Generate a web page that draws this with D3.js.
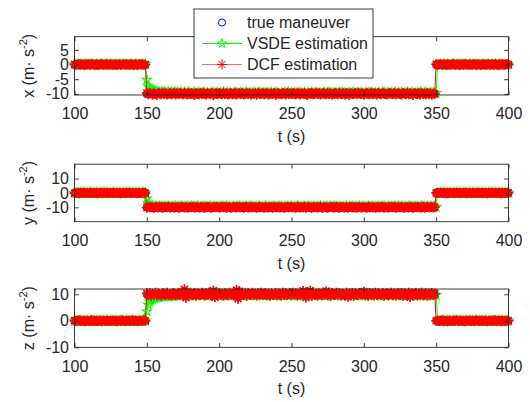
<!DOCTYPE html>
<html>
<head>
<meta charset="utf-8">
<script src="https://cdn.jsdelivr.net/npm/d3@7"></script>
<style>
  body { margin: 0; background: #fff; }
  svg { display: block; }
  text { font-family: "Liberation Sans", Arial, Helvetica, sans-serif; fill: #262626; }
</style>
</head>
<body>
<svg id="chart" width="530" height="402"></svg>
<script>
// ---- data -------------------------------------------------------------
// sample times (s), one sample per second
const time = d3.range(100, 401);
// true maneuver, piecewise constant: [from t, to t, ax, ay, az] (m/s^2)
const maneuverSegments = [
  [100, 149, 0, 0, 0],
  [150, 349, -10, -10, 10],
  [350, 400, 0, 0, 0]
];
const xTickValues = [100, 150, 200, 250, 300, 350, 400];
const seriesNames = ["true maneuver", "VSDE estimation", "DCF estimation"];

// estimation errors w.r.t. the true maneuver, in units of 0.1 m/s^2 (t = 100 … 400)
const dcfErrX = [
  1,-1,0,2,-1,1,0,-2,1,0,1,-1,2,0,-1,1,-2,0,1,1,-1,0,2,-1,0,
  1,0,-1,1,-2,0,1,-1,0,2,-1,1,0,-1,1,0,-2,1,0,-1,2,0,1,-1,0,
  3,-2,4,1,-3,2,0,-4,3,1,-2,4,-1,2,-3,0,3,-2,1,4,-3,2,-1,3,0,
  -2,4,1,-3,2,-1,3,0,-4,2,1,-2,3,-1,4,0,-3,2,1,-2,3,-4,1,2,-1,
  3,0,-2,4,-1,2,-3,1,3,-2,0,4,-3,1,2,-1,3,-2,0,4,-1,2,-3,1,0,
  2,-3,4,0,-1,3,-2,1,4,-3,0,2,-1,3,-4,1,2,0,-2,3,1,-3,4,-1,2,
  -1,3,0,-2,4,1,-3,2,0,3,-1,-4,2,1,3,-2,0,4,-1,2,-3,1,3,0,-2,
  4,-1,2,-3,0,3,1,-2,4,-1,0,2,-3,3,1,-4,2,0,-1,3,-2,4,1,-1,2,
  -3,1,3,0,-2,4,-1,2,1,-3,3,0,-2,4,1,-1,-3,2,3,0,-1,4,-2,1,2,
  0,-3,3,1,-1,4,-2,2,0,-4,3,1,-1,2,-3,4,0,1,-2,3,-1,2,-3,1,0,
  1,-1,0,2,-1,0,1,-2,1,0,-1,1,2,-1,0,1,-2,0,1,-1,2,0,-1,1,0,
  -1,2,0,-1,1,0,-2,1,1,-1,0,2,-1,0,1,-1,2,0,-2,1,0,1,-1,0,2,
  0
];
const vsdeErrX = [
  0,1,-1,0,1,0,-1,1,0,-1,0,1,1,-1,0,0,1,-1,0,1,-1,0,0,1,-1,
  1,0,-1,0,1,-1,0,1,0,-1,1,0,0,-1,1,0,-1,0,1,0,-1,1,0,0,1,
  48,26,19,15,12,10,8,7,6,5,5,4,6,3,5,4,3,5,2,4,3,5,2,4,3,
  2,4,1,3,5,2,0,3,4,1,2,5,0,3,2,4,1,3,0,2,5,1,3,2,4,
  1,3,2,5,0,2,4,1,3,-1,2,4,1,3,0,5,2,1,3,4,0,2,3,1,4,
  2,0,3,5,1,2,4,0,3,1,2,5,-1,3,2,4,1,0,3,2,5,1,2,4,0,
  3,1,4,2,0,3,5,1,2,4,0,3,1,2,5,2,0,4,1,3,2,0,4,3,1,
  2,5,0,3,1,4,2,0,3,2,5,1,3,0,2,4,1,3,5,0,2,3,1,4,2,
  0,3,2,4,1,5,2,0,3,1,4,2,0,3,5,1,2,4,0,3,1,2,4,0,3,
  2,4,1,3,0,5,2,1,3,4,0,2,3,1,4,2,0,3,5,1,2,4,1,3,2,
  -97,0,1,-1,0,1,0,-1,1,0,-1,0,1,1,-1,0,0,1,-1,0,1,-1,0,0,1,
  0,-1,1,0,0,-1,1,0,-1,0,1,0,-1,1,0,0,1,-1,0,1,-1,0,1,0,-1,
  0
];
const dcfErrY = [
  -1,1,0,-2,1,0,2,-1,0,1,-1,2,0,-1,1,0,-2,1,1,0,-1,2,-1,0,1,
  0,-1,2,0,1,-1,0,-2,1,1,0,-1,2,0,-1,1,0,1,-2,0,1,-1,0,2,-1,
  -3,4,-1,2,0,-4,3,1,-2,5,0,-3,2,1,-1,4,-2,0,3,-4,2,1,-3,0,4,
  1,-2,3,-4,0,2,-1,5,-3,1,2,-2,0,4,-1,-3,2,1,3,-4,0,2,-1,3,1,
  -2,0,4,-1,3,-3,1,2,-4,0,3,1,-2,4,-1,0,2,-3,1,5,-2,0,3,-1,2,
  0,-3,2,4,-1,1,-4,3,0,-2,2,1,-3,4,0,-1,3,-2,1,0,-4,2,3,-1,1,
  3,-1,0,-3,4,2,-2,1,0,5,-3,1,2,-1,-4,3,0,2,-2,1,4,-3,0,1,-1,
  -4,2,1,3,-2,0,4,-1,-3,2,1,0,-2,3,-4,1,5,-1,0,2,-3,1,3,-2,0,
  2,-1,-3,4,0,1,-2,3,-4,2,0,-1,4,1,-3,2,0,-2,3,1,-1,4,-3,0,2,
  -1,3,0,-4,2,1,-2,4,0,-3,1,2,-1,3,-2,0,4,-3,1,2,-1,0,3,-2,1,
  0,1,-1,2,0,-1,1,0,-2,1,0,1,-1,0,2,-1,0,1,-1,0,2,-2,1,0,-1,
  1,0,-1,1,2,-1,0,-1,1,0,-2,1,0,2,-1,0,1,-1,0,1,-2,0,1,-1,0,
  1
];
const vsdeErrY = [
  0,-1,1,0,0,1,-1,0,1,-1,0,0,1,0,-1,1,0,-1,0,1,0,-1,1,0,0,
  -1,0,1,0,-1,1,0,0,-1,1,0,1,-1,0,0,1,-1,0,1,0,0,-1,1,0,1,
  62,25,14,10,8,6,5,6,4,5,3,4,6,2,5,3,4,2,5,3,6,2,4,3,5,
  3,1,4,6,2,3,5,1,4,2,6,3,0,4,2,5,3,1,4,6,2,3,5,1,3,
  4,2,5,1,3,6,2,4,0,3,5,2,4,1,6,3,2,4,5,1,3,2,6,4,2,
  1,4,3,5,2,0,4,6,3,1,5,2,4,3,1,5,2,6,3,0,4,2,5,1,3,
  5,2,3,1,6,4,2,0,5,3,1,4,6,2,3,5,1,4,2,3,6,0,4,2,5,
  3,1,5,2,4,6,0,3,5,2,4,1,3,6,2,4,0,5,3,2,4,1,6,3,2,
  4,2,0,5,3,1,6,2,4,3,5,1,2,4,6,0,3,5,2,4,1,3,5,2,6,
  1,3,5,2,4,0,6,3,1,4,2,5,3,0,4,6,2,3,1,5,2,4,3,1,4,
  -98,0,-1,1,0,0,1,-1,0,1,0,-1,0,1,-1,0,1,0,0,-1,1,0,-1,1,0,
  1,0,-1,0,1,-1,0,1,0,0,-1,1,0,-1,1,0,0,1,-1,0,1,0,-1,0,1,
  0
];
const dcfErrZ = [
  1,0,-1,2,0,-1,1,-2,0,1,-1,0,2,-1,1,0,-1,1,0,-2,1,0,-1,1,0,
  -1,1,0,1,-2,0,1,-1,2,0,-1,0,1,-1,0,2,-1,1,0,-1,0,1,-1,2,0,
  4,-3,5,-6,2,-1,6,-4,3,0,-5,4,2,-3,6,-2,1,-5,4,3,-4,0,5,-2,3,
  -5,19,-13,4,-2,6,-4,1,5,-6,3,-1,-3,6,2,-5,4,-2,7,-4,1,14,-11,3,-2,
  5,-3,2,-6,4,1,-4,6,-2,3,-5,2,16,-17,12,-4,5,-2,3,-6,4,0,-3,6,-1,
  2,-5,4,-1,6,-3,0,5,-4,2,-6,3,1,-2,5,-4,3,0,-5,6,-2,4,-3,1,5,
  -3,6,-1,4,-5,2,-2,5,13,-4,-12,3,6,14,-6,5,-3,2,-5,4,1,-4,6,-2,12,
  -4,3,-6,5,1,-3,6,-2,4,-5,2,0,-4,6,-10,3,-2,5,-6,4,1,-3,5,-1,3,
  10,-4,2,-6,5,-1,3,-5,6,-2,4,0,-3,5,-6,2,4,-4,1,6,-3,3,-5,2,4,
  -2,5,-6,3,1,-4,6,-11,4,-3,2,5,-5,3,-2,6,-4,1,4,-6,3,-1,5,-3,2,
  0,1,-1,0,2,-1,0,1,-2,1,0,-1,1,0,2,-1,0,1,-1,0,-2,1,0,1,-1,
  1,-1,0,2,-1,0,1,-1,0,1,-2,0,1,0,-1,2,0,-1,1,0,-1,1,0,-2,1,
  0
];
const vsdeErrZ = [
  0,1,0,-1,1,0,-1,0,1,0,-1,1,0,0,-1,1,0,-1,1,0,0,-1,1,0,-1,
  1,0,-1,1,0,0,-1,1,0,-1,0,1,0,-1,1,0,1,-1,0,0,1,-1,0,1,0,
  -65,-40,-28,-22,-18,-15,-13,-12,-11,-10,-9,-8,-8,-7,-6,-7,-5,-6,-5,-4,-5,-3,-4,-5,-3,
  -2,-4,-1,-3,0,-5,-2,-3,-1,-4,-2,0,-3,-1,-5,-2,-3,0,-4,-2,-1,-3,-5,-2,0,
  -3,-1,-4,-2,-5,0,-3,-2,-1,-4,-3,-2,0,-5,-1,-3,-4,-2,0,-3,-1,-5,-2,-4,-1,
  -2,-4,0,-3,-1,-5,-2,-3,-4,0,-2,-1,-5,-3,-2,-4,-1,0,-3,-5,-2,-1,-4,-3,0,
  -1,-3,-5,-2,0,-4,-1,-3,-2,-5,0,-2,-4,-1,-3,-2,-5,-1,0,-4,-3,-2,-1,-5,-3,
  0,-2,-4,-1,-3,-5,-2,0,-3,-1,-4,-2,-5,0,-3,-1,-2,-4,-3,0,-5,-1,-2,-4,-3,
  -1,-5,-2,0,-3,-4,-1,-2,-5,-3,0,-2,-4,-1,-3,-5,-2,0,-4,-1,-3,-2,-5,0,-3,
  -2,-4,-1,-3,0,-5,-2,-4,-1,-3,-2,0,-5,-3,-1,-4,-2,-3,0,-5,-1,-2,-4,-3,-2,
  97,1,0,-1,0,1,-1,0,1,0,-1,0,1,1,-1,0,0,1,-1,0,1,0,-1,0,1,
  -1,0,1,0,-1,1,0,0,-1,1,0,-1,1,0,0,-1,1,0,-1,0,1,-1,0,1,0,
  0
];

[dcfErrX, vsdeErrX, dcfErrY, vsdeErrY, dcfErrZ, vsdeErrZ].forEach((a, i) => {
  if (a.length !== time.length) throw new Error("error array " + i + " has " + a.length + " samples");
});

// ---- layout -----------------------------------------------------------
const plotLeft = 74.5, plotRight = 508.5;
const panels = [
  { axis: "x", comp: 0, top: 36.7,  bottom: 95,    domain: [-10.4, 9.5], ticks: [-10, -5, 0, 5], dcf: dcfErrX, vsde: vsdeErrX },
  { axis: "y", comp: 1, top: 164.2, bottom: 221.7, domain: [-20, 20],    ticks: [-10, 0, 10],    dcf: dcfErrY, vsde: vsdeErrY },
  { axis: "z", comp: 2, top: 289,   bottom: 347.3, domain: [-10, 12],    ticks: [-10, 0, 10],    dcf: dcfErrZ, vsde: vsdeErrZ }
];
const axisColor = "#262626";
const colors = { truth: "#0000ff", vsde: "#00ff00", dcf: "#ff0000" };
const tickLen = 4.3;
const fontSize = 16;

function trueValue(t, comp) {
  const seg = maneuverSegments.find(s => t >= s[0] && t <= s[1]);
  return seg[2 + comp];
}

// marker shapes
const circleR = 3.6;
const starPath = d3.symbol(d3.symbolStar).size(26)();
function asteriskPath(r) {
  const a = r * Math.SQRT1_2;
  return `M${-r},0L${r},0M0,${-r}L0,${r}M${-a},${-a}L${a},${a}M${-a},${a}L${a},${-a}`;
}
const astPath = asteriskPath(4.9);

const svg = d3.select("#chart");
const x = d3.scaleLinear().domain([100, 400]).range([plotLeft, plotRight]);

panels.forEach(p => {
  const y = d3.scaleLinear().domain(p.domain).range([p.bottom, p.top]);
  const g = svg.append("g");

  const truth = time.map(t => ({ t, v: trueValue(t, p.comp) }));
  const vsde = time.map((t, i) => ({ t, v: trueValue(t, p.comp) + p.vsde[i] / 10 }));
  const dcf = time.map((t, i) => ({ t, v: trueValue(t, p.comp) + p.dcf[i] / 10 }));

  // axes box and ticks (ticks point inwards, mirrored on all sides)
  const ax = svg.append("g");
  ax.append("rect")
    .attr("x", plotLeft).attr("y", p.top)
    .attr("width", plotRight - plotLeft).attr("height", p.bottom - p.top)
    .attr("fill", "none").attr("stroke", axisColor).attr("stroke-width", 0.9);

  ax.append("g").attr("transform", `translate(0,${p.bottom})`)
    .call(d3.axisBottom(x).tickValues(xTickValues).tickSizeInner(-tickLen).tickSizeOuter(0).tickPadding(13));
  ax.append("g").attr("transform", `translate(0,${p.top})`)
    .call(d3.axisTop(x).tickValues(xTickValues).tickSizeInner(-tickLen).tickSizeOuter(0).tickFormat(""));
  const leftAxis = ax.append("g").attr("transform", `translate(${plotLeft},0)`)
    .call(d3.axisLeft(y).tickValues(p.ticks).tickSizeInner(-tickLen).tickSizeOuter(0).tickPadding(5.5).tickFormat(d3.format("d")));
  ax.append("g").attr("transform", `translate(${plotRight},0)`)
    .call(d3.axisRight(y).tickValues(p.ticks).tickSizeInner(-tickLen).tickSizeOuter(0).tickFormat(""));

  ax.selectAll(".domain").remove();
  ax.selectAll(".tick line").attr("stroke", axisColor).attr("stroke-width", 0.9);
  ax.selectAll("g").attr("font-family", null).attr("font-size", null);
  ax.selectAll(".tick text").attr("fill", axisColor).style("font-size", fontSize + "px");
  leftAxis.selectAll(".tick text").text(d => (d < 0 ? "-" + Math.abs(d) : String(d)));

  // axis labels
  const yl = svg.append("text")
    .attr("transform", `translate(33.5,${(p.top + p.bottom) / 2}) rotate(-90)`)
    .attr("text-anchor", "middle")
    .style("font-size", fontSize + "px");
  yl.append("tspan").text(`${p.axis} (m\u00B7 s`);
  yl.append("tspan").attr("dy", -7).style("font-size", "11px").text("-2");
  yl.append("tspan").attr("dy", 7).text(")");

  svg.append("text")
    .attr("x", (plotLeft + plotRight) / 2).attr("y", p.bottom + 47)
    .attr("text-anchor", "middle")
    .style("font-size", fontSize + "px")
    .text("t (s)");

  // true maneuver: open circles
  g.append("g").selectAll("circle").data(truth).join("circle")
    .attr("cx", d => x(d.t)).attr("cy", d => y(d.v)).attr("r", circleR)
    .attr("fill", "none").attr("stroke", colors.truth).attr("stroke-width", 1);

  const line = d3.line().x(d => x(d.t)).y(d => y(d.v));

  // VSDE estimate: line + pentagrams
  g.append("path").datum(vsde).attr("d", line)
    .attr("fill", "none").attr("stroke", colors.vsde).attr("stroke-width", 1);
  g.append("g").selectAll("path").data(vsde).join("path")
    .attr("d", starPath)
    .attr("transform", d => `translate(${x(d.t)},${y(d.v)})`)
    .attr("fill", "none").attr("stroke", colors.vsde).attr("stroke-width", 1.1);

  // DCF estimate: line + asterisks
  g.append("path").datum(dcf).attr("d", line)
    .attr("fill", "none").attr("stroke", colors.dcf).attr("stroke-width", 1);
  g.append("g").selectAll("path").data(dcf).join("path")
    .attr("d", astPath)
    .attr("transform", d => `translate(${x(d.t)},${y(d.v)})`)
    .attr("fill", "none").attr("stroke", colors.dcf).attr("stroke-width", 1.7);
});

// ---- legend -----------------------------------------------------------
const legend = svg.append("g");
legend.append("rect")
  .attr("x", 194).attr("y", 9).attr("width", 179).attr("height", 69)
  .attr("fill", "#fff").attr("stroke", axisColor).attr("stroke-width", 0.9);
const rowY = [22.5, 43.5, 64.5];
seriesNames.forEach((name, i) => {
  const cy = rowY[i];
  const row = legend.append("g");
  if (i === 0) {
    row.append("circle").attr("cx", 222).attr("cy", cy).attr("r", circleR)
      .attr("fill", "none").attr("stroke", colors.truth).attr("stroke-width", 1);
  } else {
    const c = i === 1 ? colors.vsde : colors.dcf;
    row.append("line").attr("x1", 202).attr("x2", 242).attr("y1", cy).attr("y2", cy)
      .attr("stroke", c).attr("stroke-width", 1).attr("stroke-opacity", i === 2 ? 0.6 : 1);
    row.append("path").attr("d", i === 1 ? starPath : astPath)
      .attr("transform", `translate(222,${cy})`)
      .attr("fill", "none").attr("stroke", c).attr("stroke-width", 1);
  }
  row.append("text").attr("x", 247).attr("y", cy + 5.5)
    .style("font-size", fontSize + "px").text(name);
});
</script>
</body>
</html>
